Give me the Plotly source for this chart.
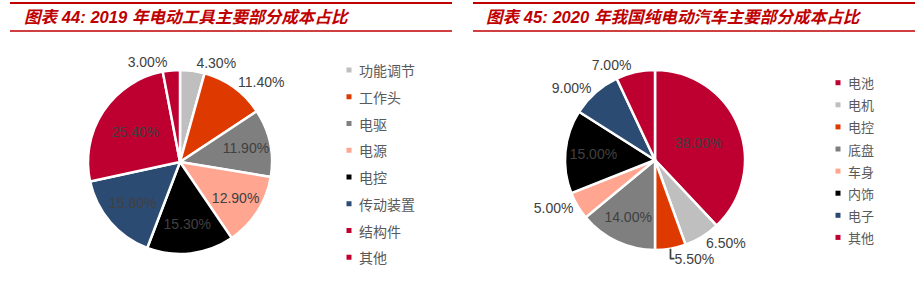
import plotly.graph_objects as go

W, H = 923, 290

title1 = "图表 44: 2019 年电动工具主要部分成本占比"
labels1 = ["功能调节", "工作头", "电驱", "电源", "电控", "传动装置", "结构件", "其他"]
values1 = [4.3, 11.4, 11.9, 12.9, 15.3, 15.8, 25.4, 3.0]
colors1 = ["#BFBFBF", "#DE3A00", "#7F7F7F", "#FFA590", "#000000", "#2C4B73", "#BE0030", "#BE0030"]
pos1 = ["outside", "outside", "inside", "inside", "inside", "inside", "inside", "outside"]

title2 = "图表 45: 2020 年我国纯电动汽车主要部分成本占比"
labels2 = ["电池", "电机", "电控", "底盘", "车身", "内饰", "电子", "其他"]
values2 = [38.0, 6.5, 5.5, 14.0, 5.0, 15.0, 9.0, 7.0]
colors2 = ["#BE0030", "#BFBFBF", "#DE3A00", "#7F7F7F", "#FFA590", "#000000", "#2C4B73", "#BE0030"]
pos2 = ["inside", "outside", "outside", "inside", "outside", "inside", "outside", "outside"]


def px(x):
    return x / W


def py(y):
    return 1 - y / H


LAT = "Liberation Sans, Arial, Noto Sans CJK SC, sans-serif"
CJK = "Noto Sans CJK SC, sans-serif"
RED = "#C00000"
TXT = "#404040"

fig = go.Figure()


def add_pie(labels, values, colors, pos, cx, cy, r):
    fig.add_trace(go.Pie(
        labels=labels, values=values, sort=False, direction="clockwise", rotation=0,
        marker=dict(colors=colors, line=dict(color="white", width=2.5)),
        texttemplate="%{value:.2f}%", textposition=pos,
        insidetextorientation="horizontal",
        textfont=dict(family=LAT, size=14, color=TXT),
        insidetextfont=dict(family=LAT, size=14, color=TXT),
        outsidetextfont=dict(family=LAT, size=14, color=TXT),
        domain=dict(x=[px(cx - r), px(cx + r)], y=[py(cy + r), py(cy - r)]),
        showlegend=False, hoverinfo="label+percent",
    ))


add_pie(labels1, values1, colors1, pos1, 180, 162, 92)
add_pie(labels2, values2, colors2, pos2, 655, 160, 90)

shapes = []
annotations = []


def title_block(text, x0, x1, tx):
    shapes.append(dict(type="line", xref="paper", yref="paper", x0=px(x0), x1=px(x1),
                       y0=py(3), y1=py(3), line=dict(color=RED, width=2)))
    shapes.append(dict(type="line", xref="paper", yref="paper", x0=px(x0), x1=px(x1),
                       y0=py(31), y1=py(31), line=dict(color=RED, width=1.5)))
    annotations.append(dict(text="<b><i>" + text + "</i></b>", xref="paper", yref="paper",
                            x=px(tx), y=py(17), xanchor="left", yanchor="middle",
                            showarrow=False, font=dict(family=LAT, size=16.6, color=RED)))


title_block(title1, 10, 452, 22)
title_block(title2, 473, 915, 484)


def legend_block(labels, colors, mx, tx, y0, dy, size):
    for i, (lab, col) in enumerate(zip(labels, colors)):
        y = y0 + i * dy
        shapes.append(dict(type="rect", xref="paper", yref="paper",
                           x0=px(mx - 2.5), x1=px(mx + 2.5), y0=py(y + 2.5), y1=py(y - 2.5),
                           fillcolor=col, line=dict(width=0)))
        annotations.append(dict(text=lab, xref="paper", yref="paper", x=px(tx), y=py(y),
                                xanchor="left", yanchor="middle", showarrow=False,
                                font=dict(family=CJK, size=size, color="#595959")))


legend_block(labels1, colors1, 349, 357, 70, 26.75, 14)
legend_block(labels2, colors2, 838, 846, 82.7, 22.1, 13)

fig.update_layout(
    width=W, height=H, margin=dict(l=0, r=0, t=0, b=0),
    paper_bgcolor="white", plot_bgcolor="white",
    shapes=shapes, annotations=annotations,
)

fig.write_html("out.html")
